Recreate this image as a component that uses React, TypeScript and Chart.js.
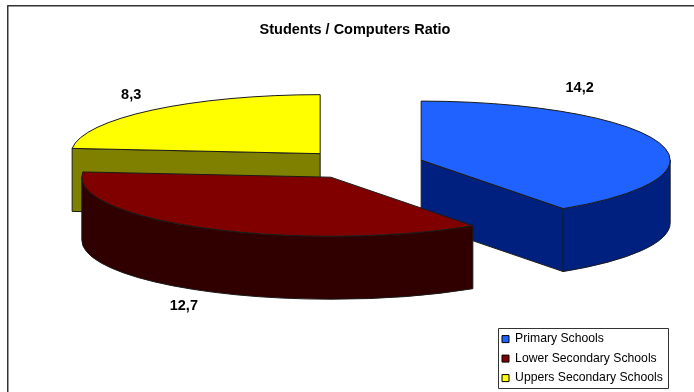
import React, { useEffect, useRef } from "react";
import { Chart, registerables } from "chart.js";

Chart.register(...registerables);

const categories = ["Primary Schools", "Lower Secondary Schools", "Uppers Secondary Schools"];
const ratios = [14.2, 12.7, 8.3];
const topColours = ["#1f62ff", "#800000", "#ffff00"];
const wallColours = ["#002080", "#300000", "#808000"];
const chartTitle = "Students / Computers Ratio";

// Where each value label sits relative to its wedge apex.
const labelShifts = [
  { dx: 158.5, dy: -72 },
  { dx: -147, dy: 129 },
  { dx: -189, dy: -59 },
];

const PIE_CENTRE = { x: 362, y: 164.5 };
const RADIUS = 249;
const EXPLODE = 62;
const TILT = 0.237; // vertical squash of the circular pie
const DEPTH = 63;
const OUTLINE = "#1a1a1a";
const LEGEND_BOX = { left: 498, top: 328, right: 668, bottom: 388 };

const pie3d = {
  id: "pie3d",
  afterLayout(chart: any) {
    // The pie is positioned from the chart area, so centre that on the pie.
    const area = chart.chartArea;
    area.left = PIE_CENTRE.x - 150;
    area.right = PIE_CENTRE.x + 150;
    area.top = PIE_CENTRE.y - 100;
    area.bottom = PIE_CENTRE.y + 100;
    area.width = 300;
    area.height = 200;

    // Park the legend inside its bordered box at the lower right.
    const legend = chart.legend;
    const width = legend.right - legend.left;
    legend.left = LEGEND_BOX.left - 3.3;
    legend.right = legend.left + width;
    legend.top = LEGEND_BOX.top - 2.3;
    legend.bottom = legend.top + 200;

    // The title sits a little right of the canvas middle.
    const title = chart.titleBlock;
    title.left += 8;
    title.right += 8;
  },
  beforeDatasetDraw(chart: any, args: any) {
    const { ctx } = chart;
    const arcs = args.meta.data;

    const geometry = arcs.map((arc: any, i: number) => {
      const { x, y, startAngle, endAngle, outerRadius } = arc.getProps(
        ["x", "y", "startAngle", "endAngle", "outerRadius"],
        true
      );
      const mid = (startAngle + endAngle) / 2;
      const cx = x + Math.cos(mid) * EXPLODE;
      const cy = y + Math.sin(mid) * EXPLODE * TILT;
      return { i, cx, cy, startAngle, endAngle, r: outerRadius };
    });

    const rimPoint = (g: any, angle: number) => ({
      x: g.cx + Math.cos(angle) * g.r,
      y: g.cy + Math.sin(angle) * g.r * TILT,
    });

    const ellipse = (g: any, from: number, to: number, dy: number, back = false) =>
      ctx.ellipse(g.cx, g.cy + dy, g.r, g.r * TILT, 0, from, to, back);

    const paint = (fill: string) => {
      ctx.fillStyle = fill;
      ctx.strokeStyle = OUTLINE;
      ctx.lineWidth = 1;
      ctx.lineJoin = "round";
      ctx.fill();
      ctx.stroke();
    };

    const drawWedge = (g: any) => {
      const wall = wallColours[g.i];
      const a = rimPoint(g, g.startAngle);
      const b = rimPoint(g, g.endAngle);

      // Flat faces made by the two cuts, only where they look towards the viewer.
      [
        { p: a, show: Math.cos(g.startAngle) < -1e-6 },
        { p: b, show: Math.cos(g.endAngle) > 1e-6 },
      ].forEach(({ p, show }) => {
        if (!show) return;
        ctx.beginPath();
        ctx.moveTo(g.cx, g.cy);
        ctx.lineTo(p.x, p.y);
        ctx.lineTo(p.x, p.y + DEPTH);
        ctx.lineTo(g.cx, g.cy + DEPTH);
        ctx.closePath();
        paint(wall);
      });

      // Curved rim: the part of the arc on the near half of the ellipse.
      const nearFrom = Math.max(g.startAngle, 0);
      const nearTo = Math.min(g.endAngle, Math.PI);
      if (nearTo > nearFrom) {
        ctx.beginPath();
        ellipse(g, nearFrom, nearTo, 0);
        ellipse(g, nearTo, nearFrom, DEPTH, true);
        ctx.closePath();
        paint(wall);
      }

      // Top face.
      ctx.beginPath();
      ctx.moveTo(g.cx, g.cy);
      ellipse(g, g.startAngle, g.endAngle, 0);
      ctx.closePath();
      paint(topColours[g.i]);
    };

    // Back wedges first, the front one last.
    [2, 0, 1].forEach((i) => drawWedge(geometry[i]));

    ctx.save();
    ctx.fillStyle = "#000";
    ctx.font = 'bold 14.5px "Liberation Sans"';
    ctx.textAlign = "center";
    ctx.textBaseline = "middle";
    geometry.forEach((g: any) => {
      const text = ratios[g.i].toFixed(1).replace(".", ",");
      ctx.fillText(text, g.cx + labelShifts[g.i].dx, g.cy + labelShifts[g.i].dy);
    });
    ctx.restore();
    return false;
  },
  afterDraw(chart: any) {
    const { ctx } = chart;
    ctx.save();
    ctx.strokeStyle = "#333";
    ctx.lineWidth = 1.5;
    // Plot frame along the left and top only.
    ctx.beginPath();
    ctx.moveTo(7.75, 392);
    ctx.lineTo(7.75, 5.75);
    ctx.lineTo(694, 5.75);
    ctx.stroke();
    // Legend border.
    ctx.lineWidth = 1;
    ctx.strokeRect(
      LEGEND_BOX.left + 0.5,
      LEGEND_BOX.top + 0.5,
      LEGEND_BOX.right - LEGEND_BOX.left,
      LEGEND_BOX.bottom - LEGEND_BOX.top
    );
    ctx.restore();
  },
};

export default function App() {
  const ref = useRef<HTMLCanvasElement>(null);

  useEffect(() => {
    const chart = new Chart(ref.current!, {
      type: "pie",
      data: {
        labels: categories,
        datasets: [
          {
            data: ratios,
            backgroundColor: topColours,
            borderColor: "#000000",
            borderWidth: 1,
            radius: RADIUS,
          },
        ],
      },
      options: {
        responsive: false,
        animation: false,
        layout: { padding: 0 },
        events: [],
        plugins: {
          title: {
            display: true,
            text: chartTitle,
            color: "#000",
            font: { family: '"Liberation Sans"', size: 14.5, weight: "bold" },
            padding: { top: 21, bottom: 0 },
          },
          legend: {
            position: "right",
            align: "start",
            labels: {
              color: "#000",
              font: { family: '"Liberation Sans"', size: 12.2 },
              boxWidth: 7,
              boxHeight: 7,
              padding: 7.3,
            },
          },
          tooltip: { enabled: false },
        },
      },
      plugins: [pie3d],
    } as any);
    return () => chart.destroy();
  }, []);

  return (
    <canvas
      ref={ref}
      width={694}
      height={392}
      style={{ position: "fixed", left: 0, top: 0, display: "block", background: "#fff" }}
    />
  );
}
